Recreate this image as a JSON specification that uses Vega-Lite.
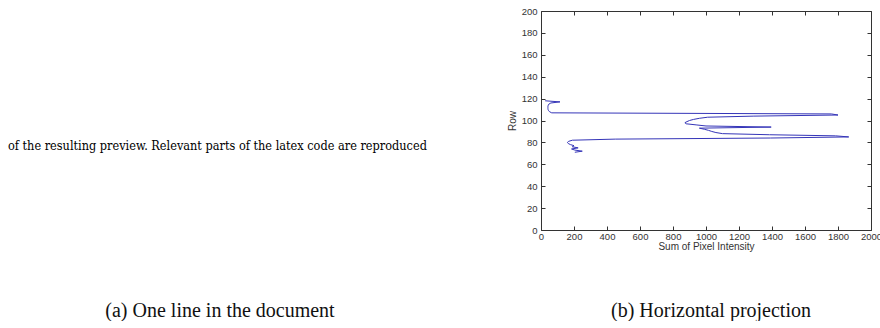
{
  "$schema": "https://vega.github.io/schema/vega-lite/v6.json",
  "background": "white",
  "padding": {"left": 0, "top": 5, "right": 0, "bottom": 0},
  "config": {
    "view": {"stroke": null},
    "concat": {"spacing": 66},
    "title": {"font": "Liberation Serif", "fontSize": 20, "fontWeight": "normal", "color": "#111"}
  },
  "hconcat": [
    {
      "width": 440,
      "height": 219,
      "data": {"values": [{"line": "of the resulting preview. Relevant parts of the latex code are reproduced"}]},
      "mark": {"type": "text", "font": "'DejaVu Serif Condensed', 'Liberation Sans Narrow', 'Liberation Serif'", "fontSize": 12.6, "align": "left", "baseline": "alphabetic", "color": "#000"},
      "encoding": {
        "x": {"datum": 0.018, "type": "quantitative", "scale": {"domain": [0, 1]}, "axis": null},
        "y": {"datum": 0.365, "type": "quantitative", "scale": {"domain": [0, 1]}, "axis": null},
        "text": {"field": "line"}
      },
      "title": {"text": "(a) One line in the document", "orient": "bottom", "anchor": "middle", "offset": 71}
    },
    {
      "width": 330,
      "height": 219,
      "data": {"values": [
        {"row": 118, "sum": 25}, {"row": 117, "sum": 115}, {"row": 116, "sum": 60}, {"row": 115, "sum": 48},
        {"row": 114, "sum": 44}, {"row": 113, "sum": 42}, {"row": 112, "sum": 42}, {"row": 111, "sum": 42},
        {"row": 110, "sum": 43}, {"row": 109, "sum": 46}, {"row": 108, "sum": 52}, {"row": 107, "sum": 65},
        {"row": 106, "sum": 1760}, {"row": 105, "sum": 1800}, {"row": 104, "sum": 1290}, {"row": 103, "sum": 1010},
        {"row": 102, "sum": 960}, {"row": 101, "sum": 925}, {"row": 100, "sum": 900}, {"row": 99, "sum": 885},
        {"row": 98, "sum": 872}, {"row": 97, "sum": 880}, {"row": 96, "sum": 940}, {"row": 95, "sum": 1000},
        {"row": 94, "sum": 1395}, {"row": 93, "sum": 960}, {"row": 92, "sum": 990}, {"row": 91, "sum": 1015},
        {"row": 90, "sum": 1035}, {"row": 89, "sum": 1060}, {"row": 88, "sum": 1100}, {"row": 87, "sum": 1385},
        {"row": 86, "sum": 1785}, {"row": 85, "sum": 1865}, {"row": 84, "sum": 1390}, {"row": 83, "sum": 450},
        {"row": 82, "sum": 190}, {"row": 81, "sum": 168}, {"row": 80, "sum": 160}, {"row": 79, "sum": 165},
        {"row": 78, "sum": 178}, {"row": 77, "sum": 200}, {"row": 76, "sum": 190}, {"row": 75, "sum": 225},
        {"row": 74, "sum": 185}, {"row": 73, "sum": 205}, {"row": 72, "sum": 250}, {"row": 71, "sum": 205}
      ]},
      "layer": [
        {
          "mark": {"type": "line", "color": "#3535b8", "strokeWidth": 1},
          "encoding": {
            "x": {
              "field": "sum", "type": "quantitative",
              "scale": {"domain": [0, 2000], "nice": false},
              "axis": {
                "orient": "bottom", "values": [0, 200, 400, 600, 800, 1000, 1200, 1400, 1600, 1800, 2000],
                "format": "d", "labelOverlap": false, "labelBound": false, "labelFlush": false,
                "grid": false, "domain": false, "tickSize": -4, "tickColor": "#333", "labelPadding": 5,
                "labelFont": "Liberation Sans", "labelFontSize": 9.5, "labelColor": "#333",
                "title": "Sum of Pixel Intensity", "titleFont": "Liberation Sans", "titleFontSize": 10,
                "titleFontWeight": "normal", "titleColor": "#333", "titlePadding": 1
              }
            },
            "y": {
              "field": "row", "type": "quantitative",
              "scale": {"domain": [0, 200], "nice": false},
              "axis": {
                "orient": "left", "values": [0, 20, 40, 60, 80, 100, 120, 140, 160, 180, 200],
                "format": "d", "labelOverlap": false, "labelFlush": false,
                "grid": false, "domain": false, "tickSize": -4, "tickColor": "#333", "labelPadding": 8,
                "labelFont": "Liberation Sans", "labelFontSize": 9.5, "labelColor": "#333",
                "title": "Row", "titleFont": "Liberation Sans", "titleFontSize": 10,
                "titleFontWeight": "normal", "titleColor": "#333", "titlePadding": 4
              }
            },
            "order": {"field": "row", "sort": "descending"}
          }
        },
        {
          "mark": {"type": "point", "opacity": 0},
          "encoding": {
            "x": {
              "field": "sum", "type": "quantitative",
              "scale": {"domain": [0, 2000], "nice": false},
              "axis": {"orient": "top", "values": [0, 200, 400, 600, 800, 1000, 1200, 1400, 1600, 1800, 2000],
                "labels": false, "title": null, "grid": false, "domain": false, "tickSize": -4, "tickColor": "#333"}
            },
            "y": {
              "field": "row", "type": "quantitative",
              "scale": {"domain": [0, 200], "nice": false},
              "axis": {"orient": "right", "values": [0, 20, 40, 60, 80, 100, 120, 140, 160, 180, 200],
                "labels": false, "title": null, "grid": false, "domain": false, "tickSize": -4, "tickColor": "#333"}
            }
          }
        }
      ],
      "resolve": {"scale": {"x": "independent", "y": "independent"}},
      "view": {"stroke": "#333", "strokeWidth": 1},
      "title": {"text": "(b) Horizontal projection", "orient": "bottom", "anchor": "middle", "offset": 49, "dx": 5}
    }
  ]
}
